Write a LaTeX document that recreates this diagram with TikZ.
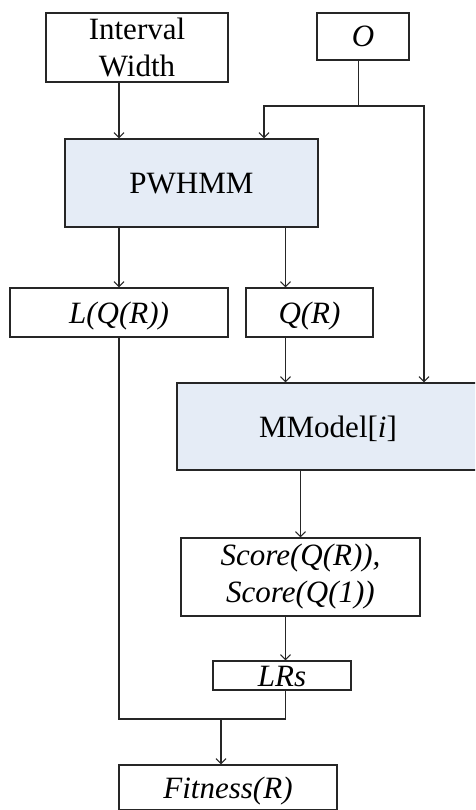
\documentclass[tikz,border=0pt]{standalone}
\usepackage{fontspec}
\setmainfont{Liberation Serif}
\usetikzlibrary{arrows.meta,calc}
\definecolor{boxblue}{HTML}{E5ECF6}
\begin{document}
\begin{tikzpicture}[x=1pt,y=-1pt,
  box/.style={draw=black!85,line width=1.3pt,rectangle,inner sep=0pt,
    font=\fontsize{31}{37}\selectfont,align=center},
  sl/.style={text height=21pt,text depth=0pt},
  model/.style={box,fill=boxblue},
  conn/.style={line width=1.3pt,draw=black!85},
  arr/.style={conn,-{Straight Barb[length=5pt,width=10pt,line width=1.1pt]}}]
\useasboundingbox (0,0) rectangle (475,810);
\clip (0,0) rectangle (475,810);
% boxes
\node[box,minimum width=182pt,minimum height=69pt] (iw) at (137,47.5) {Interval\\Width};
\node[box,sl,minimum width=92pt,minimum height=47pt] (o) at (363,36.5) {\textit{O}};
\node[model,sl,minimum width=253pt,minimum height=88pt] (pw) at (191.5,183) {PWHMM};
\node[box,sl,minimum width=218pt,minimum height=49pt] (lq) at (119,312.5) {\textit{L(Q(R))}};
\node[box,sl,minimum width=127pt,minimum height=49pt] (qr) at (309.5,312.5) {\textit{Q(R)}};
\node[model,sl,minimum width=302pt,minimum height=87pt] (mm) at (328,426.5) {MModel[\textit{i}]};
\node[box,minimum width=239pt,minimum height=78pt] (sc) at (300.5,577) {\textit{Score(Q(R)),}\\\textit{Score(Q(1))}};
\node[box,sl,minimum width=138pt,minimum height=29pt] (lr) at (282,675.5) {\textit{LRs}};
\node[box,sl,minimum width=218pt,minimum height=45pt] (fi) at (228,787.5) {\textit{Fitness(R)}};
% helper coordinates
\coordinate (c2) at (285.5,0);
\coordinate (j1) at (358.5,106);
\coordinate (cl) at (264,0);
\coordinate (cr) at (424,0);
\coordinate (j2) at (221,719);
% connectors
\draw[arr] (iw.south -| lq) -- (pw.north -| lq);
\draw[conn] (o.south -| j1) -- (j1);
\draw[arr] (j1) -| (pw.north -| cl);
\draw[arr] (j1) -| (mm.north -| cr);
\draw[arr] (pw.south -| lq) -- (lq.north);
\draw[arr] (pw.south -| c2) -- (qr.north -| c2);
\draw[arr] (qr.south -| c2) -- (mm.north -| c2);
\draw[arr] (mm.south -| sc) -- (sc.north);
\draw[arr] (sc.south -| c2) -- (lr.north -| c2);
\draw[conn] (lq.south) |- (c2 |- j2) -- (lr.south -| c2);
\draw[arr] (j2) -- (fi.north -| j2);
\end{tikzpicture}
\end{document}
